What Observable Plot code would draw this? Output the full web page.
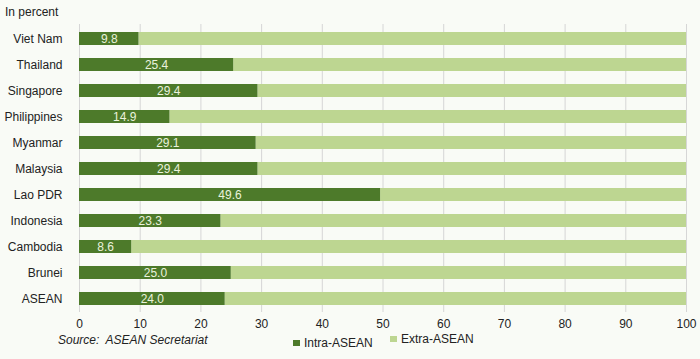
<!DOCTYPE html>
<html>
<head>
<meta charset="utf-8">
<script src="https://cdn.jsdelivr.net/npm/d3@7"></script>
<script src="https://cdn.jsdelivr.net/npm/@observablehq/plot@0.6"></script>
<style>
  html, body { margin: 0; padding: 0; background: #f9fbf6; }
  #wrap { position: relative; width: 700px; height: 359px; font-family: "Liberation Sans", Arial, sans-serif; color: #222; }
  #chart { position: absolute; left: 0; top: 0; }
  .lbl { position: absolute; font-size: 12px; line-height: 14px; white-space: nowrap; }
  .sw { display: inline-block; width: 7px; height: 6px; margin-right: 4px; vertical-align: 1px; }
</style>
</head>
<body>
<div id="wrap">
  <div id="chart"></div>
  <div class="lbl" style="left:5px; top:5px;">In percent</div>
  <div class="lbl" style="left:58px; top:333px; font-style:italic;">Source:&nbsp; ASEAN Secretariat</div>
  <div class="lbl" id="leg1" style="left:293px; top:336px;"></div>
  <div class="lbl" id="leg2" style="left:390px; top:332px;"></div>
</div>
<script>
const countries = ["Viet Nam","Thailand","Singapore","Philippines","Myanmar","Malaysia","Lao PDR","Indonesia","Cambodia","Brunei","ASEAN"];
const intraASEAN = [9.8, 25.4, 29.4, 14.9, 29.1, 29.4, 49.6, 23.3, 8.6, 25.0, 24.0];
const seriesNames = ["Intra-ASEAN", "Extra-ASEAN"];
const xTicks = [0, 10, 20, 30, 40, 50, 60, 70, 80, 90, 100];

const darkGreen = "#4d7a2a";
const lightGreen = "#bdd691";

const data = countries.map((c, i) => ({country: c, intra: intraASEAN[i], extra: 100 - intraASEAN[i]}));

const plot = Plot.plot({
  width: 700,
  height: 359,
  marginLeft: 79,
  marginRight: 14,
  marginTop: 24,
  marginBottom: 47,
  style: {background: "transparent", fontFamily: "'Liberation Sans', Arial, sans-serif", fontSize: "12px", color: "#222"},
  x: {domain: [0, 100], ticks: xTicks, label: null},
  y: {domain: countries, paddingInner: 0.5, paddingOuter: 0.25, label: null},
  marks: [
    Plot.gridX(xTicks, {stroke: "#d6d6d6", strokeOpacity: 1}),
    Plot.barX(data, {y: "country", x1: "intra", x2: d => d.intra + d.extra, fill: lightGreen}),
    Plot.barX(data, {y: "country", x1: 0, x2: "intra", fill: darkGreen}),
    Plot.text(data, {y: "country", x: d => d.intra / 2, text: d => d.intra.toFixed(1), fill: "#eaf2dc", fontSize: 12}),
    Plot.axisY({tickSize: 0, tickPadding: 17, fontSize: 12}),
    Plot.axisX({ticks: xTicks, tickSize: 0, tickPadding: 7, fontSize: 12, tickFormat: d => String(d)})
  ]
});
document.getElementById("chart").appendChild(plot);

document.getElementById("leg1").innerHTML = `<span class="sw" style="background:${darkGreen}"></span>${seriesNames[0]}`;
document.getElementById("leg2").innerHTML = `<span class="sw" style="background:${lightGreen}"></span>${seriesNames[1]}`;
</script>
</body>
</html>
